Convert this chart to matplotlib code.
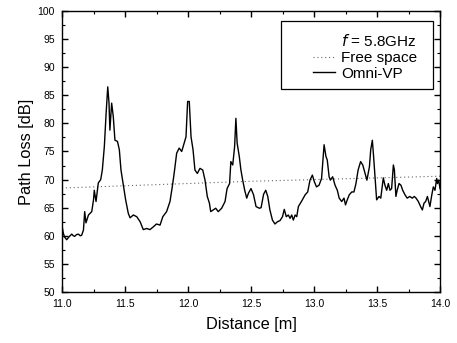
import matplotlib
matplotlib.use("Agg")
import matplotlib.pyplot as plt
from matplotlib.ticker import MultipleLocator, FormatStrFormatter
from matplotlib.patches import Rectangle

plt.rcParams['font.family'] = ['Liberation Sans', 'DejaVu Sans']

distance = [11.000, 11.010, 11.020, 11.037, 11.055, 11.077, 11.090, 11.100, 11.115, 11.130,
            11.145, 11.156, 11.170, 11.180, 11.190, 11.210, 11.236, 11.250, 11.256, 11.270,
            11.288, 11.307, 11.320, 11.336, 11.350, 11.363, 11.373, 11.380, 11.394, 11.407,
            11.420, 11.440, 11.455, 11.468, 11.487, 11.505, 11.526, 11.540, 11.566, 11.593,
            11.620, 11.645, 11.672, 11.698, 11.725, 11.750, 11.778, 11.800, 11.830, 11.857,
            11.875, 11.890, 11.910, 11.930, 11.950, 11.970, 11.984, 11.997, 12.010, 12.024,
            12.040, 12.055, 12.074, 12.095, 12.117, 12.135, 12.153, 12.170, 12.180, 12.200,
            12.220, 12.240, 12.267, 12.294, 12.310, 12.330, 12.340, 12.355, 12.370, 12.380,
            12.390, 12.407, 12.420, 12.434, 12.450, 12.466, 12.480, 12.500, 12.520, 12.540,
            12.566, 12.580, 12.600, 12.617, 12.633, 12.650, 12.670, 12.690, 12.710, 12.730,
            12.750, 12.764, 12.780, 12.796, 12.810, 12.823, 12.836, 12.850, 12.863, 12.876,
            12.900, 12.930, 12.950, 12.968, 12.987, 13.003, 13.020, 13.040, 13.060, 13.074,
            13.080, 13.095, 13.105, 13.120, 13.130, 13.148, 13.167, 13.185, 13.200, 13.220,
            13.238, 13.250, 13.264, 13.280, 13.300, 13.317, 13.333, 13.350, 13.370, 13.387,
            13.405, 13.420, 13.440, 13.450, 13.463, 13.473, 13.484, 13.497, 13.516, 13.530,
            13.550, 13.563, 13.577, 13.590, 13.603, 13.616, 13.630, 13.638, 13.650, 13.660,
            13.675, 13.690, 13.704, 13.722, 13.740, 13.760, 13.780, 13.796, 13.810, 13.828,
            13.846, 13.860, 13.873, 13.886, 13.900, 13.910, 13.920, 13.935, 13.947, 13.960,
            13.974, 13.980, 13.990, 14.000]
omni_vp = [61.8, 60.5, 59.8, 59.3, 59.8, 60.3, 60.0, 59.9, 60.2, 60.3,
           60.0, 60.1, 61.0, 64.3, 62.3, 63.7, 64.3, 66.4, 68.1, 66.1,
           69.4, 70.0, 71.7, 75.9, 81.8, 86.5, 83.6, 78.8, 83.6, 81.2,
           77.0, 76.8, 75.3, 71.7, 69.0, 66.4, 64.0, 63.2, 63.7, 63.4,
           62.5, 61.1, 61.3, 61.1, 61.6, 62.1, 61.9, 63.4, 64.3, 66.1,
           68.7, 71.1, 74.7, 75.6, 75.0, 76.5, 77.6, 83.9, 83.9, 77.6,
           75.3, 71.7, 71.1, 72.0, 71.7, 69.9, 67.0, 65.8, 64.3, 64.6,
           64.9, 64.3, 64.9, 66.1, 68.4, 69.3, 73.2, 72.6, 75.9, 80.9,
           76.5, 74.1, 71.7, 69.9, 68.1, 66.7, 67.6, 68.4, 67.3, 65.2,
           64.9, 65.0, 67.4, 68.1, 67.0, 64.6, 62.8, 62.1, 62.5, 62.7,
           63.4, 64.7, 63.4, 63.7, 63.1, 63.7, 62.8, 63.7, 63.4, 65.2,
           66.1, 67.3, 67.8, 69.9, 70.8, 69.6, 68.7, 69.0, 70.2, 74.3,
           76.2, 74.1, 73.5, 70.5, 69.9, 70.5, 69.0, 68.1, 66.7, 66.1,
           66.7, 65.5, 66.4, 67.3, 67.8, 67.8, 69.3, 71.7, 73.2, 72.6,
           71.1, 69.9, 72.3, 75.3, 77.0, 74.1, 70.5, 66.4, 67.0, 66.7,
           70.3, 69.0, 68.1, 69.3, 68.1, 68.4, 72.6, 71.7, 67.0, 68.1,
           69.3, 69.0, 68.1, 67.3, 66.7, 67.0, 66.7, 67.0, 66.7, 66.1,
           65.2, 64.6, 65.8, 66.1, 67.0, 66.1, 65.2, 67.3, 68.7, 68.1,
           70.2, 69.3, 69.9, 68.4]

# free space reference line
fs_distance = [11.0, 11.5, 12.0, 12.5, 13.0, 13.5, 14.0]
fs_loss = [68.5, 68.9, 69.3, 69.7, 70.0, 70.3, 70.6]

fig = plt.figure(figsize=(4.57, 3.43), dpi=100)
ax = fig.add_axes([0.1357, 0.1487, 0.8271, 0.8193])

ax.plot(fs_distance, fs_loss, color='0.4', linestyle=(0, (1, 2.5)), linewidth=0.8, label='Free space')
ax.plot(distance, omni_vp, color='black', linewidth=1.0, label='Omni-VP')

ax.set_xlim(11.0, 14.0)
ax.set_ylim(50, 100)
ax.xaxis.set_major_locator(MultipleLocator(0.5))
ax.xaxis.set_minor_locator(MultipleLocator(0.25))
ax.yaxis.set_major_locator(MultipleLocator(5))
ax.yaxis.set_minor_locator(MultipleLocator(2.5))
ax.xaxis.set_major_formatter(FormatStrFormatter('%.1f'))
ax.tick_params(which='both', direction='in', top=True, right=True, labelsize=7.5, pad=5)
ax.tick_params(which='major', length=4.5, width=1)
ax.tick_params(which='minor', length=2.5, width=0.8)
for s in ax.spines.values():
    s.set_linewidth(1.0)

ax.set_xlabel('Distance [m]', fontsize=11.8, labelpad=6)
ax.set_ylabel('Path Loss [dB]', fontsize=11.8, labelpad=3)

# legend box drawn by hand so the padding can be uneven like the original
box = Rectangle((0.579, 0.722), 0.402, 0.242, transform=ax.transAxes,
                facecolor='white', edgecolor='black', linewidth=0.9, zorder=4)
ax.add_patch(box)
leg = ax.legend(loc='upper right', bbox_to_anchor=(0.939, 0.92), borderaxespad=0,
                title='$f$ = 5.8GHz', title_fontsize=11, alignment='right',
                fontsize=11, frameon=False, borderpad=0,
                handlelength=1.5, labelspacing=0.1, handletextpad=0.35)
leg.set_zorder(5)

fig.savefig('out.png', dpi=100)
